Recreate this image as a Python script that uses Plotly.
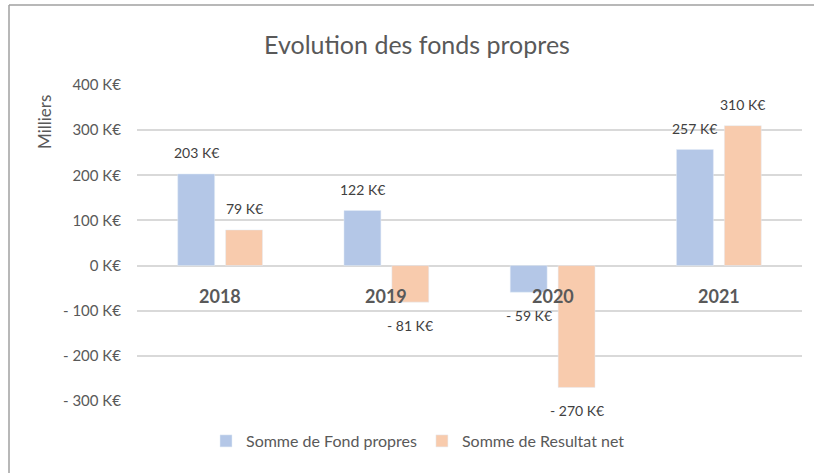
import plotly.graph_objects as go

categories = ["2018", "2019", "2020", "2021"]
fond_propres = [203, 122, -59, 257]
resultat_net = [79, -81, -270, 310]
tick_vals = [-300, -200, -100, 0, 100, 200, 300, 400]
tick_text = ["- 300 K€", "- 200 K€", "- 100 K€", "0 K€", "100 K€", "200 K€", "300 K€", "400 K€"]

def fmt(v):
    return f"- {abs(v)} K€" if v < 0 else f"{v} K€"

FONT = "Lato, Roboto, sans-serif"
W, H = 814, 473
L, R, T, B = 137, 12, 85, 72
pw, ph = W - L - R, H - T - B
BW, GAP = 0.222, 0.066

fig = go.Figure()
series = [("Somme de Fond propres", fond_propres, "#B4C7E7", -BW - GAP / 2),
          ("Somme de Resultat net", resultat_net, "#F8CBAD", GAP / 2)]
for name, vals, col, off in series:
    fig.add_trace(go.Bar(x=categories, y=vals, name=name, marker_color=col,
                         width=BW, offset=off, cliponaxis=False))
    for i, v in enumerate(vals):
        fig.add_annotation(x=i + off + BW / 2, y=v, xref="x", yref="y", text=fmt(v),
                           showarrow=False, xanchor="center",
                           yanchor="bottom" if v >= 0 else "top",
                           yshift=11 if v >= 0 else -13,
                           font=dict(size=14, color="#404040", family=FONT))

for i, c in enumerate(categories):
    fig.add_annotation(x=i, y=0, xref="x", yref="y", text=f"<b>{c}</b>",
                       showarrow=False, xanchor="center", yanchor="middle", yshift=-30,
                       font=dict(size=18, color="#595959", family=FONT))

px = lambda x: (x - L) / pw
py = lambda y: (H - B - y) / ph

fig.add_annotation(x=px(45), y=py(122), xref="paper", yref="paper",
                   xanchor="center", yanchor="middle",
                   text="Milliers", textangle=-90, showarrow=False,
                   font=dict(size=17, color="#595959", family=FONT))

fig.add_shape(type="line", xref="paper", yref="paper", x0=px(9), x1=px(814), y0=py(5), y1=py(5),
              line=dict(color="#A0A0A0", width=1.5))
fig.add_shape(type="line", xref="paper", yref="paper", x0=px(9), x1=px(9), y0=py(5), y1=py(473),
              line=dict(color="#A0A0A0", width=1.5))

fig.update_layout(
    width=W, height=H,
    margin=dict(l=L, r=R, t=T, b=B),
    paper_bgcolor="white", plot_bgcolor="white",
    title=dict(text="Evolution des fonds propres", x=417 / W, xanchor="center",
               y=1 - 45 / H, yanchor="middle",
               font=dict(size=25, color="#595959", family=FONT)),
    showlegend=True,
    legend=dict(orientation="h", x=px(418), xanchor="center", y=py(441), yanchor="middle",
                font=dict(size=16, color="#595959", family=FONT), itemwidth=30),
    barmode="group",
    xaxis=dict(type="category", range=[-0.5, 3.5], showticklabels=False, showgrid=False,
               zeroline=False, showline=False, ticks=""),
    yaxis=dict(range=[-300, 400], tickvals=tick_vals, ticktext=tick_text,
               showgrid=True, gridcolor="#D9D9D9", gridwidth=1.5,
               zeroline=True, zerolinecolor="#D9D9D9", zerolinewidth=1.5,
               tickfont=dict(size=15, color="#595959", family=FONT),
               ticks="", ticklabelstandoff=15),
)

fig.write_html("out.html", config={"displayModeBar": False},
               post_script="document.body.style.margin='0px';")
